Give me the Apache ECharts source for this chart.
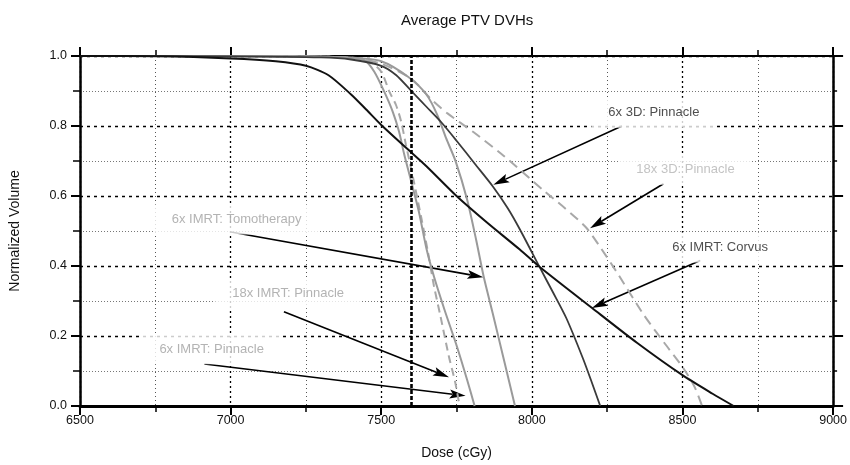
<!DOCTYPE html>
<html>
<head>
<meta charset="utf-8">
<title>Average PTV DVHs</title>
<script src="https://cdn.jsdelivr.net/npm/echarts@6/dist/echarts.min.js"></script>
<style>
html, body { margin: 0; padding: 0; background: #fff; }
#chart { width: 850px; height: 465px; }
</style>
</head>
<body>
<div id="chart"></div>
<script>
// dose (cGy), normalized volume
var corvus = [[6500,1.0],[6750,0.999],[7000,0.993],[7150,0.985],[7250,0.972],[7325,0.945],[7400,0.89],[7450,0.847],[7500,0.803],[7590,0.732],[7650,0.685],[7750,0.60],[7850,0.525],[7960,0.447],[8025,0.398],[8200,0.28],[8350,0.18],[8500,0.088],[8600,0.035],[8670,0.0]];
var pinn3d6 = [[6500,1.0],[7000,0.999],[7300,0.996],[7400,0.99],[7500,0.972],[7550,0.945],[7600,0.90],[7650,0.855],[7700,0.81],[7750,0.758],[7810,0.693],[7870,0.628],[7920,0.565],[7960,0.505],[8025,0.398],[8070,0.325],[8115,0.25],[8170,0.135],[8200,0.065],[8227,0.0]];
var pinn3d18 = [[6500,1.0],[7200,0.999],[7400,0.995],[7500,0.978],[7600,0.935],[7665,0.877],[7720,0.836],[7807,0.782],[7905,0.716],[8036,0.618],[8110,0.565],[8180,0.51],[8230,0.45],[8280,0.385],[8371,0.261],[8440,0.18],[8503,0.108],[8540,0.055],[8565,0.0]];
var tomo = [[6500,1.0],[7200,0.999],[7400,0.995],[7500,0.985],[7590,0.94],[7650,0.89],[7686,0.832],[7715,0.766],[7747,0.699],[7785,0.59],[7815,0.475],[7840,0.37],[7870,0.265],[7905,0.14],[7944,0.0]];
var pinnImrt6 = [[6500,1.0],[7200,0.999],[7400,0.995],[7444,0.988],[7477,0.955],[7510,0.898],[7538,0.841],[7559,0.784],[7576,0.72],[7600,0.64],[7625,0.555],[7650,0.45],[7675,0.37],[7710,0.275],[7752,0.168],[7785,0.075],[7810,0.0]];
var pinnImrt18 = [[6500,1.0],[7200,0.999],[7400,0.995],[7460,0.985],[7500,0.955],[7527,0.898],[7549,0.86],[7566,0.813],[7582,0.746],[7600,0.675],[7632,0.542],[7655,0.44],[7675,0.343],[7697,0.255],[7725,0.14],[7745,0.07],[7760,0.0]];

var refDose = 7600;

// annotations: text, where the text sits, arrow start, arrow tip
var noteNames = ['6x 3D: Pinnacle', '18x 3D: Pinnacle', '6x IMRT: Corvus', '6x IMRT: Tomotherapy', '18x IMRT: Pinnacle', '6x IMRT: Pinnacle'];
var notePos = [[8405,0.838],[8510,0.675],[8625,0.453],[7020,0.533],[7191,0.322],[6937,0.162]];
var arrowFrom = [[8299,0.80],[8437,0.635],[8559,0.416],[7001,0.497],[7177,0.269],[6913,0.12]];
var arrowTo = [[7872,0.632],[8193,0.508],[8199,0.28],[7839,0.368],[7725,0.082],[7780,0.029]];
var noteColors = ['#222', '#b4b4b4', '#222', '#a0a0a0', '#a0a0a0', '#a0a0a0'];

var fontName = '"Liberation Sans", Arial, sans-serif';

var chart = echarts.init(document.getElementById('chart'));

function curve(name, data, color, width, dash) {
	return {
		name: name,
		type: 'line',
		data: data,
		showSymbol: false,
		symbol: 'none',
		smooth: 0.25,
		silent: true,
		lineStyle: { color: color, width: width, type: dash || 'solid' }
	};
}

var notes = [];
var arrows = [];
for (var i = 0; i < noteNames.length; i++) {
	notes.push({
		name: noteNames[i],
		value: notePos[i],
		label: { color: noteColors[i] }
	});
	arrows.push([arrowFrom[i][0], arrowFrom[i][1], arrowTo[i][0], arrowTo[i][1]]);
}

var option = {
	backgroundColor: '#fff',
	animation: false,
	title: {
		text: 'Average PTV DVHs',
		left: 396,
		top: 8,
		textStyle: { fontFamily: fontName, fontSize: 15, fontWeight: 'normal', color: '#111' }
	},
	grid: { left: 76, right: 14, top: 56, bottom: 58 },
	xAxis: [{
		type: 'value',
		min: 6500,
		max: 9000,
		interval: 500,
		position: 'bottom',
		name: 'Dose (cGy)',
		nameLocation: 'middle',
		nameGap: 40,
		nameTextStyle: { fontFamily: fontName, fontSize: 14, color: '#111' },
		axisLine: { show: true, onZero: false, lineStyle: { color: '#000', width: 3 } },
		axisTick: { show: true, length: 9, lineStyle: { color: '#000', width: 2 } },
		minorTick: { show: true, splitNumber: 2, length: 6, lineStyle: { color: '#000', width: 1.5 } },
		axisLabel: {
			fontFamily: fontName, fontSize: 12.5, color: '#111', margin: 8,
			formatter: function(v) { return String(v); }
		},
		splitLine: { show: true, lineStyle: { color: '#000', width: 1.3, type: [2, 3] } },
		minorSplitLine: { show: true, lineStyle: { color: '#555', width: 1, type: [1, 3] } }
	}, {
		type: 'value',
		min: 6500,
		max: 9000,
		interval: 500,
		position: 'top',
		axisLine: { show: true, onZero: false, lineStyle: { color: '#000', width: 2 } },
		axisTick: { show: true, length: 9, lineStyle: { color: '#000', width: 2 } },
		minorTick: { show: true, splitNumber: 2, length: 6, lineStyle: { color: '#000', width: 1.5 } },
		axisLabel: { show: false },
		splitLine: { show: false }
	}],
	yAxis: [{
		type: 'value',
		min: 0,
		max: 1,
		interval: 0.2,
		position: 'left',
		name: 'Normalized Volume',
		nameLocation: 'middle',
		nameGap: 58,
		nameTextStyle: { fontFamily: fontName, fontSize: 14, color: '#111' },
		axisLine: { show: true, onZero: false, lineStyle: { color: '#000', width: 2.5 } },
		axisTick: { show: true, length: 9, lineStyle: { color: '#000', width: 2 } },
		minorTick: { show: true, splitNumber: 2, length: 7, lineStyle: { color: '#000', width: 1.5 } },
		axisLabel: {
			fontFamily: fontName, fontSize: 12.5, color: '#111', margin: 13,
			formatter: function(v) { return v.toFixed(1); }
		},
		splitLine: { show: true, lineStyle: { color: '#000', width: 1.3, type: [3, 4] } },
		minorSplitLine: { show: true, lineStyle: { color: '#777', width: 1, type: [1, 2] } }
	}, {
		type: 'value',
		min: 0,
		max: 1,
		interval: 0.2,
		position: 'right',
		axisLine: { show: true, onZero: false, lineStyle: { color: '#000', width: 2.5 } },
		axisTick: { show: true, length: 10, lineStyle: { color: '#000', width: 2 } },
		minorTick: { show: true, splitNumber: 2, length: 4, lineStyle: { color: '#000', width: 1.5 } },
		axisLabel: { show: false },
		splitLine: { show: false }
	}],
	series: [
		curve('18x 3D: Pinnacle', pinn3d18, '#a8a8a8', 2, [10, 6]),
		curve('18x IMRT: Pinnacle', pinnImrt18, '#a8a8a8', 2, [8, 5]),
		curve('6x IMRT: Pinnacle', pinnImrt6, '#9a9a9a', 2),
		curve('6x IMRT: Tomotherapy', tomo, '#9a9a9a', 2),
		curve('6x 3D: Pinnacle', pinn3d6, '#3a3a3a', 1.8),
		(function() {
			var s = curve('6x IMRT: Corvus', corvus, '#111', 2);
			s.markLine = {
				silent: true,
				symbol: 'none',
				label: { show: false },
				lineStyle: { color: '#000', width: 2.6, type: [4, 2] },
				data: [{ xAxis: refDose }]
			};
			return s;
		})(),
		{
			name: 'notes',
			type: 'scatter',
			symbolSize: 0,
			silent: true,
			data: notes,
			label: {
				show: true,
				position: 'inside',
				formatter: '{b}',
				fontFamily: fontName,
				fontSize: 13,
				backgroundColor: '#fff',
				padding: [11, 17, 6, 17]
			}
		},
		{
			name: 'arrows',
			type: 'custom',
			silent: true,
			data: arrows,
			renderItem: function(params, api) {
				var p0 = api.coord([api.value(0), api.value(1)]);
				var p1 = api.coord([api.value(2), api.value(3)]);
				var dx = p1[0] - p0[0], dy = p1[1] - p0[1];
				var len = Math.sqrt(dx * dx + dy * dy);
				var ux = dx / len, uy = dy / len;
				var hl = 16, hw = 4.5;
				var bx = p1[0] - ux * hl, by = p1[1] - uy * hl;
				return {
					type: 'group',
					children: [{
						type: 'line',
						shape: { x1: p0[0], y1: p0[1], x2: bx + ux * 3, y2: by + uy * 3 },
						style: { stroke: '#000', lineWidth: 1.6 }
					}, {
						type: 'polygon',
						shape: { points: [
							[p1[0], p1[1]],
							[bx - uy * hw, by + ux * hw],
							[p1[0] - ux * hl * 0.8, p1[1] - uy * hl * 0.8],
							[bx + uy * hw, by - ux * hw]
						] },
						style: { fill: '#000' }
					}]
				};
			}
		}
	]
};

chart.setOption(option);
</script>
</body>
</html>
